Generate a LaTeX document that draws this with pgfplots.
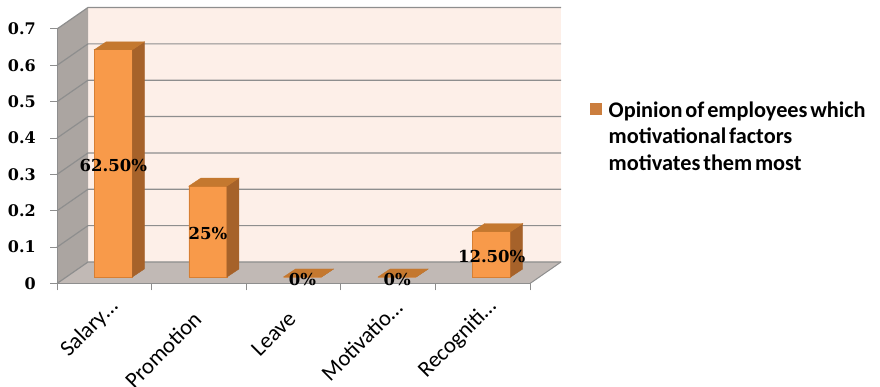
\documentclass[border=0pt]{standalone}
\usepackage{fontspec}
\setmainfont{Carlito}
\newfontfamily\numfont{DejaVu Serif}
\newfontfamily\legfont{Carlito}[WordSpace=0.55]
\usepackage{pgfplots}
\pgfplotsset{compat=1.18}
\usepackage{pgfplotstable}

\definecolor{barfront}{HTML}{F89A4A}
\definecolor{baredge}{HTML}{D77F33}
\definecolor{bartop}{HTML}{C4782F}
\definecolor{barside}{HTML}{A6622A}
\definecolor{wallback}{HTML}{FDEFE8}
\definecolor{wallside}{HTML}{ABA5A1}
\definecolor{floorcol}{HTML}{C1B9B5}
\definecolor{gridcol}{HTML}{8E8E8E}
\definecolor{legcol}{HTML}{CB7E3E}

% share of employees naming each factor
\pgfplotstableread{
x v lab
0 0.625 62.50
1 0.25 25
2 0 0
3 0 0
4 0.125 12.50
}\bardata

\pgfdeclareplotmark{void}{}
% truncated category names run on past the aligned end
\newcommand\trunc[1]{#1…\hspace*{-17pt}}

\begin{document}
\begin{tikzpicture}[x=1pt,y=1pt]
\useasboundingbox (0,0) rectangle (880,387);
\begin{axis}[
  at={(57pt,103.5pt)}, anchor=south west,
  scale only axis, width=473pt, height=254.5pt,
  xmin=-0.5, xmax=4.5, ymin=0, ymax=0.7,
  axis on top, clip=false,
  axis x line*=bottom, axis y line*=left,
  axis line style={gridcol, line width=1pt, -},
  tick style={gridcol, line width=1pt},
  tick align=outside,
  major tick length=7pt,
  xtick={-0.5,0.5,1.5,2.5,3.5,4.5}, xticklabels={},
  extra x ticks={0,1,2,3,4},
  extra x tick labels={\trunc{Salary}, Promotion, Leave, \trunc{Motivatio}, \trunc{Recogniti}},
  extra x tick style={major tick length=0pt,
    xticklabel style={font=\fontsize{22.5}{22.5}\selectfont, inner sep=0pt,
      xshift=-1.5pt, yshift=-32pt, anchor=east, rotate=45}},
  ytick={0,0.1,0.2,0.3,0.4,0.5,0.6,0.7},
  yticklabels={0,0.1,0.2,0.3,0.4,0.5,0.6,0.7},
  yticklabel style={font=\numfont\bfseries\fontsize{16}{16}\selectfont,
    anchor=east, inner sep=0pt, xshift=-14pt},
]
% back wall, side wall and floor of the box
\fill[wallback] ([shift={(31pt,21.5pt)}]axis cs:-0.5,0) rectangle ([shift={(31pt,21.5pt)}]axis cs:4.5,0.7);
\fill[wallside] (axis cs:-0.5,0) -- ([shift={(31pt,21.5pt)}]axis cs:-0.5,0)
  -- ([shift={(31pt,21.5pt)}]axis cs:-0.5,0.7) -- (axis cs:-0.5,0.7) -- cycle;
\fill[floorcol] (axis cs:-0.5,0) -- (axis cs:4.5,0) -- ([shift={(31pt,21.5pt)}]axis cs:4.5,0)
  -- ([shift={(31pt,21.5pt)}]axis cs:-0.5,0) -- cycle;
\draw[gridcol, line width=1pt] (axis cs:4.5,0) -- ([shift={(31pt,21.5pt)}]axis cs:4.5,0);
\pgfplotsinvokeforeach{0,0.1,0.2,0.3,0.4,0.5,0.6,0.7}{
  \draw[gridcol, line width=1.2pt] (axis cs:-0.5,#1) -- ([shift={(31pt,21.5pt)}]axis cs:-0.5,#1)
    -- ([shift={(31pt,21.5pt)}]axis cs:4.5,#1);
}
% top and right faces of each column
\addplot[scatter, only marks, mark=void, xshift=9pt, yshift=6.5pt,
  visualization depends on={\thisrow{v}*363.571 \as \barh},
  scatter/@pre marker code/.code={
    \fill[barside] (19pt,-\barh pt) -- (19pt,0pt) -- (31pt,8pt) -- (31pt,8pt-\barh pt) -- cycle;
    \fill[bartop] (-19pt,0pt) -- (-7pt,8pt) -- (31pt,8pt) -- (19pt,0pt) -- cycle;
  },
  scatter/@post marker code/.code={},
] table[x=x,y=v] \bardata;
% front faces with their value labels
\addplot[ybar, bar width=38pt, fill=barfront, draw=baredge, line width=0.6pt,
  xshift=9pt, yshift=6.5pt,
  point meta=explicit symbolic,
  nodes near coords={\pgfplotspointmeta\%},
  visualization depends on={-\thisrow{v}*181.79-2 \as \labshift},
  every node near coord/.append style={anchor=center, yshift=\labshift,
    font=\numfont\bfseries\fontsize{16.5}{16.5}\selectfont, text=black, inner sep=0pt},
] table[x=x,y=v,meta=lab] \bardata;
\end{axis}
% key
\fill[legcol] (590,272) rectangle (602,284);
\node[anchor=north west, align=left, inner sep=0pt,
  font=\legfont\bfseries\fontsize{22.3}{26.5}\selectfont] at (608.5,285.5)
  {Opinion of employees which\\motivational factors\\motivates them most};
\end{tikzpicture}
\end{document}
